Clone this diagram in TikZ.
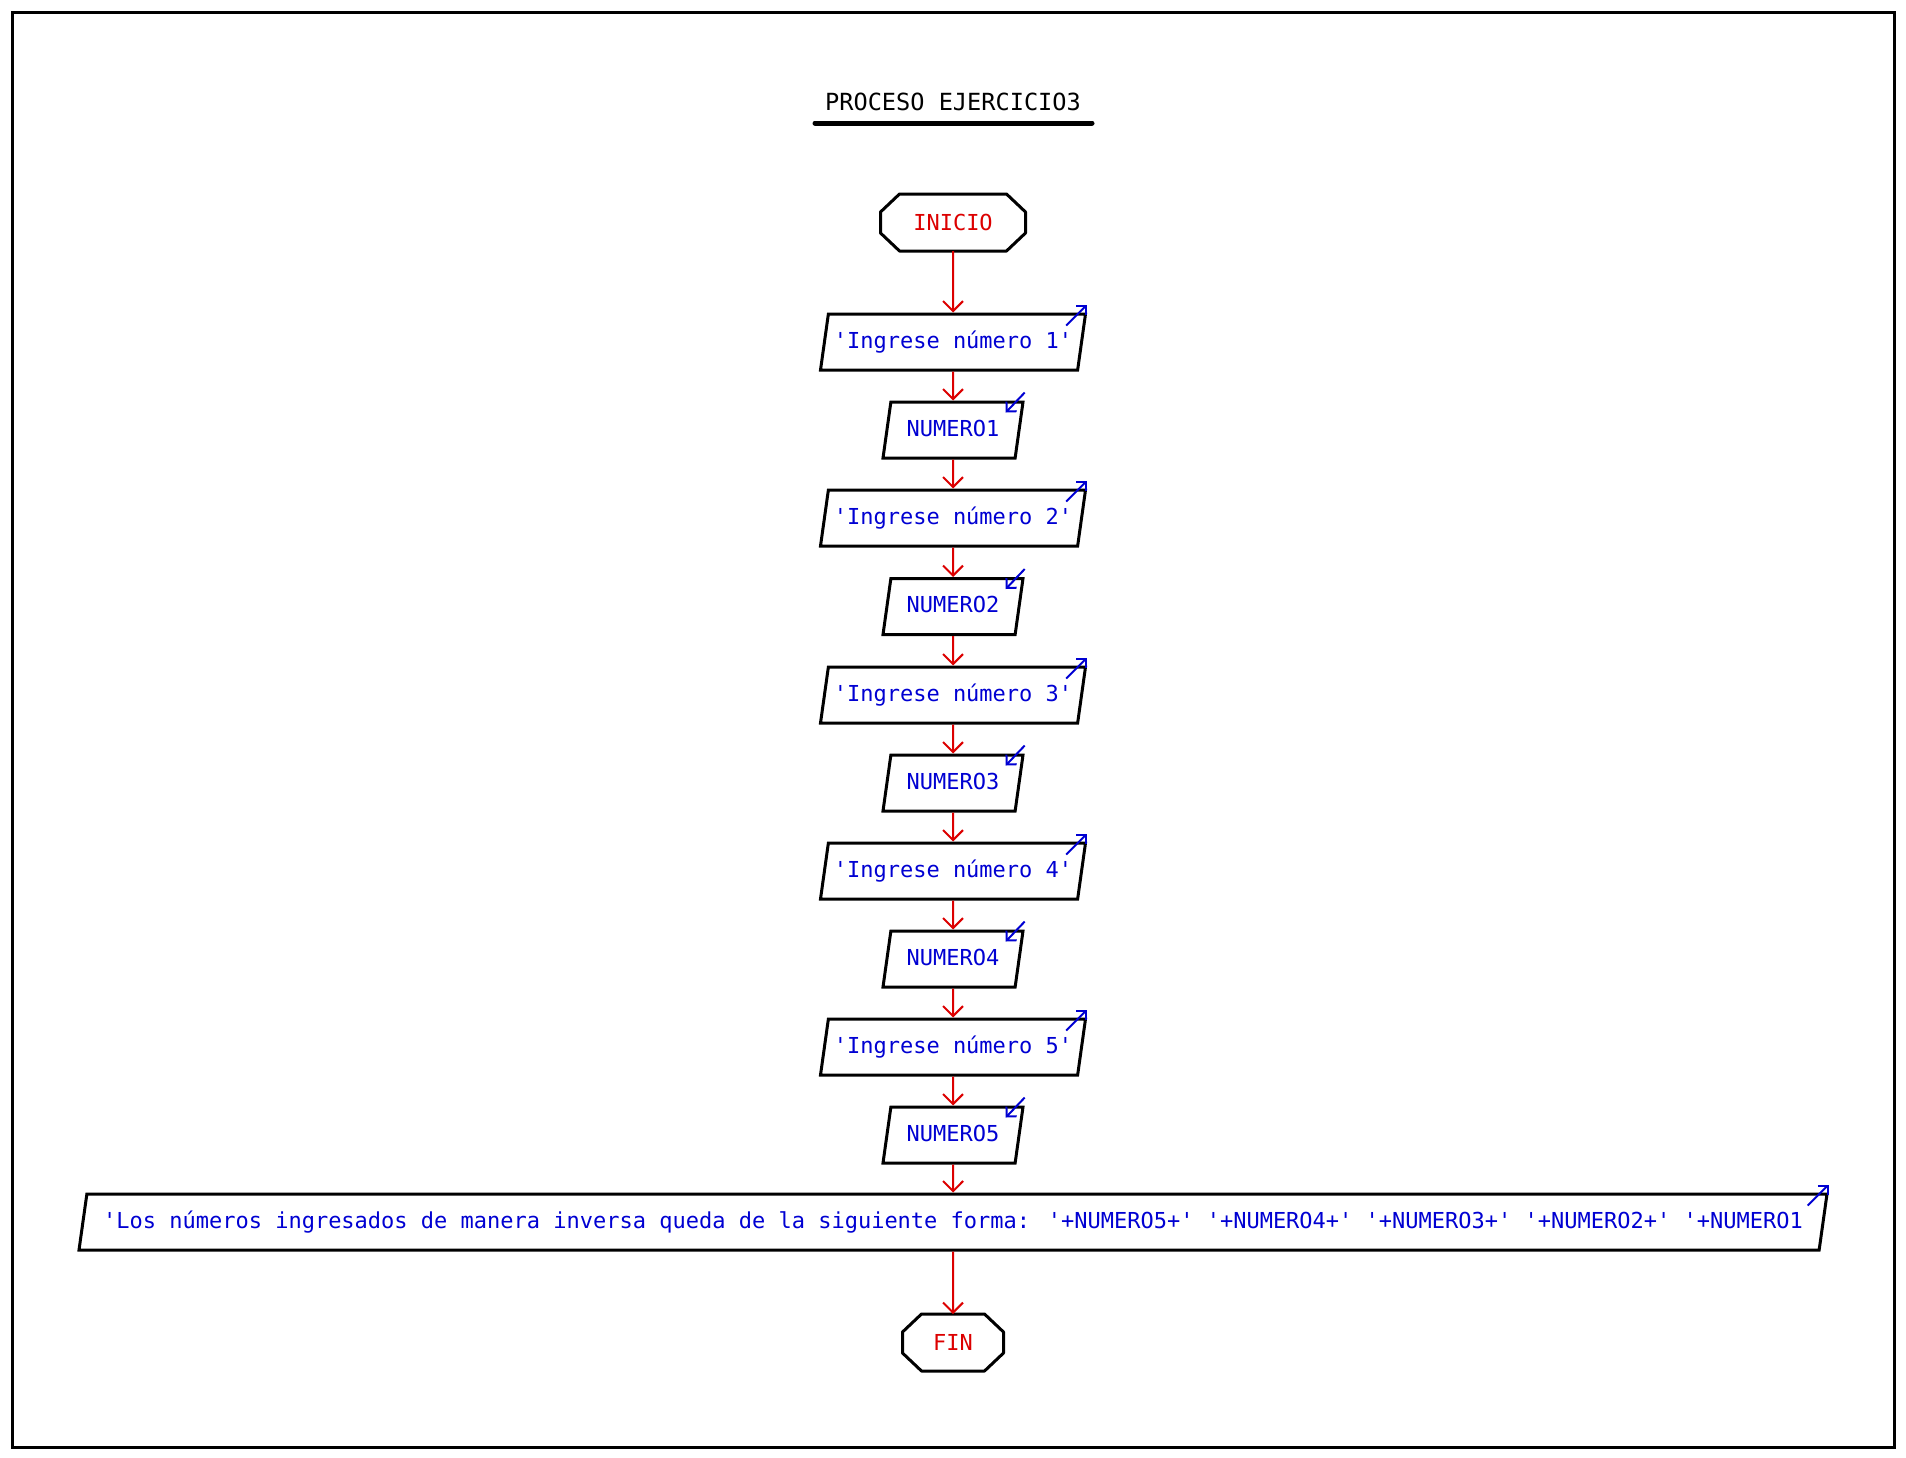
\documentclass[tikz,border=0pt]{standalone}
\usepackage{xcolor}
\usepackage{fontspec}
\newfontfamily\flowfont{DejaVu Sans Mono}
\usetikzlibrary{arrows.meta,shapes.geometric}
\definecolor{flowred}{RGB}{220,0,0}
\definecolor{flowblue}{RGB}{0,0,210}
\newcommand{\flowtext}{\flowfont\fontsize{11}{13}\selectfont}
\newcommand{\flowtitle}{\flowfont\fontsize{11.8}{13}\selectfont}
% octagon outline round a terminal node
\newcommand{\terminalborder}[1]{%
  \draw [line width=1.5pt, line join=round]
    ([xshift=9.5pt]#1.north west) -- ([xshift=-9.5pt]#1.north east)
    -- ([yshift=-9pt]#1.north east) -- ([yshift=9pt]#1.south east)
    -- ([xshift=-9.5pt]#1.south east) -- ([xshift=9.5pt]#1.south west)
    -- ([yshift=9pt]#1.south west) -- ([yshift=-9pt]#1.north west) -- cycle;}

\tikzset{
  terminal/.style={rectangle, minimum height=28.5pt, inner sep=0pt, outer sep=0pt, text=flowred, font=\flowtext},
  iobox/.style={draw, line width=1.5pt, trapezium, trapezium left angle=82, trapezium right angle=98, trapezium stretches body,
    text height=8.5pt, text depth=2.5pt, inner ysep=8.5pt, inner xsep=0pt, text=flowblue, font=\flowtext},
  flowarrow/.style={draw=flowred, line width=1pt, -{Straight Barb[length=5pt,width=10pt]}},
  cornerarrow/.style={draw=flowblue, line width=1pt, -{Straight Barb[length=3.5pt,width=7pt]}}
}

\begin{document}
\begin{tikzpicture}[x=0.5pt, y=-0.5pt]
\useasboundingbox (0,0) rectangle (1906,1457);
% Frame and title
\draw [line width=1.5pt] (12,12) rectangle (1894,1447);
\node (title) at (953,102) [font=\flowtitle] {PROCESO EJERCICIO3};
\draw [line width=2.5pt, line cap=round] (815,123) -- (1092,123);

% Define the entities
\node (inicio) at (953,222.5) [terminal, minimum width=72.5pt] {INICIO};
\node (out1) at (953,342) [iobox, minimum width=132.5pt] {'Ingrese número 1'};
\node (in1) at (953,430) [iobox, minimum width=70pt] {NUMERO1};
\node (out2) at (953,518) [iobox, minimum width=132.5pt] {'Ingrese número 2'};
\node (in2) at (953,606.5) [iobox, minimum width=70pt] {NUMERO2};
\node (out3) at (953,695) [iobox, minimum width=132.5pt] {'Ingrese número 3'};
\node (in3) at (953,783) [iobox, minimum width=70pt] {NUMERO3};
\node (out4) at (953,871) [iobox, minimum width=132.5pt] {'Ingrese número 4'};
\node (in4) at (953,959) [iobox, minimum width=70pt] {NUMERO4};
\node (out5) at (953,1047) [iobox, minimum width=132.5pt] {'Ingrese número 5'};
\node (in5) at (953,1135) [iobox, minimum width=70pt] {NUMERO5};
\node (msg) at (953,1222) [iobox, minimum width=874pt] {'Los números ingresados de manera inversa queda de la siguiente forma: '+NUMERO5+' '+NUMERO4+' '+NUMERO3+' '+NUMERO2+' '+NUMERO1};
\node (fin) at (953,1342.5) [terminal, minimum width=50.5pt] {FIN};
\terminalborder{inicio}
\terminalborder{fin}

% Flow
\draw [flowarrow] (inicio.south) -- (out1.north);
\draw [flowarrow] (out1.south) -- (in1.north);
\draw [flowarrow] (in1.south) -- (out2.north);
\draw [flowarrow] (out2.south) -- (in2.north);
\draw [flowarrow] (in2.south) -- (out3.north);
\draw [flowarrow] (out3.south) -- (in3.north);
\draw [flowarrow] (in3.south) -- (out4.north);
\draw [flowarrow] (out4.south) -- (in4.north);
\draw [flowarrow] (in4.south) -- (out5.north);
\draw [flowarrow] (out5.south) -- (in5.north);
\draw [flowarrow] (in5.south) -- (msg.north);
\draw [flowarrow] (msg.south) -- (fin.north);

% Output and input marks
\draw [cornerarrow] ([shift={(-21,13)}]out1.top right corner) -- ([shift={(0,-8)}]out1.top right corner);
\draw [cornerarrow] ([shift={(-21,13)}]out2.top right corner) -- ([shift={(0,-8)}]out2.top right corner);
\draw [cornerarrow] ([shift={(-21,13)}]out3.top right corner) -- ([shift={(0,-8)}]out3.top right corner);
\draw [cornerarrow] ([shift={(-21,13)}]out4.top right corner) -- ([shift={(0,-8)}]out4.top right corner);
\draw [cornerarrow] ([shift={(-21,13)}]out5.top right corner) -- ([shift={(0,-8)}]out5.top right corner);
\draw [cornerarrow] ([shift={(-21,13)}]msg.top right corner) -- ([shift={(0,-8)}]msg.top right corner);
\draw [cornerarrow] ([shift={(0,-8)}]in1.top right corner) -- ([shift={(-19,12)}]in1.top right corner);
\draw [cornerarrow] ([shift={(0,-8)}]in2.top right corner) -- ([shift={(-19,12)}]in2.top right corner);
\draw [cornerarrow] ([shift={(0,-8)}]in3.top right corner) -- ([shift={(-19,12)}]in3.top right corner);
\draw [cornerarrow] ([shift={(0,-8)}]in4.top right corner) -- ([shift={(-19,12)}]in4.top right corner);
\draw [cornerarrow] ([shift={(0,-8)}]in5.top right corner) -- ([shift={(-19,12)}]in5.top right corner);
\end{tikzpicture}
\end{document}
